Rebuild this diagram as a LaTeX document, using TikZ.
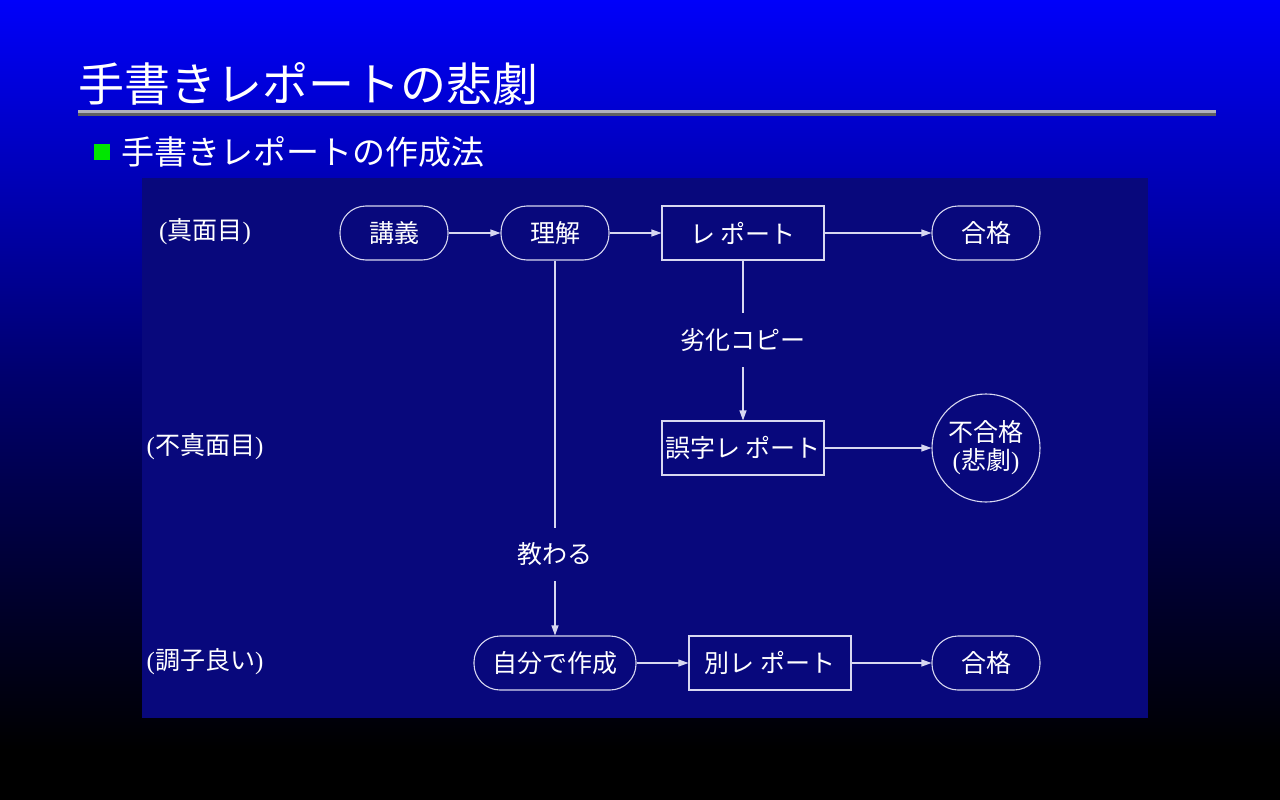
\documentclass[tikz,border=0pt]{standalone}
\usepackage{fontspec}
\setmainfont{Liberation Serif}
\newfontfamily\cjk{Noto Sans CJK JP}
\usetikzlibrary{arrows.meta}
\definecolor{panelblue}{RGB}{8,8,124}
\definecolor{topblue}{RGB}{0,0,250}
\definecolor{ruleA}{RGB}{176,176,190}
\definecolor{ruleB}{RGB}{96,96,100}
\definecolor{linec}{RGB}{215,215,240}
\definecolor{bulletg}{RGB}{0,230,0}
\tikzset{
  conn/.style={draw=linec, line width=1.1pt},
  arr/.style={conn, -{Triangle[length=10pt,width=7pt]}},
  base/.style={draw=linec, line width=1.1pt, text=white, font=\fontsize{25}{29}\selectfont\cjk, inner sep=0pt},
  pill/.style={base, rounded corners=26pt, minimum height=54pt},
  boxn/.style={base, minimum height=54pt},
  circ/.style={base, circle, minimum size=108pt, align=center},
  lbl/.style={text=white, font=\fontsize{25}{29}\selectfont, inner sep=2pt, fill=panelblue},
  rowlbl/.style={text=white, font=\fontsize{25}{29}\selectfont, inner sep=0pt}
}
\begin{document}
\begin{tikzpicture}[x=1pt,y=-1pt]
\useasboundingbox (0,0) rectangle (1280,800);
\shade[top color=topblue, bottom color=black, middle color={rgb,255:red,0;green,0;blue,110}] (0,0) rectangle (1280,750);
\fill[black] (0,749) rectangle (1280,800);
% title
\node[anchor=west, text=white, font=\fontsize{46}{50}\selectfont\cjk, inner sep=0pt] (title) at (78,84) {手書きレポートの悲劇};
\fill[ruleA] (78,110) rectangle (1216,113);
\fill[ruleB] (78,113) rectangle (1216,116);
% bullet
\fill[bulletg] (94,144) rectangle (110,160);
\node[anchor=west, text=white, font=\fontsize{33}{36}\selectfont\cjk, inner sep=0pt] (sub) at (121,152) {手書きレポートの作成法};
% panel
\fill[panelblue] (142,178) rectangle (1148,718);
% row labels
\node[rowlbl] (r1) at (205,232) {({\cjk 真面目})};
\node[rowlbl] (r2) at (205,447) {({\cjk 不真面目})};
\node[rowlbl] (r3) at (205,662) {({\cjk 調子良い})};
% row 1
\node[pill, minimum width=108pt] (kougi) at (394,233) {講義};
\node[pill, minimum width=108pt] (rikai) at (555,233) {理解};
\node[boxn, minimum width=162pt] (report) at (743,233) {レ ポート};
\node[pill, minimum width=108pt] (gokaku1) at (986,233) {合格};
% row 2
\node[boxn, minimum width=162pt] (goji) at (743,448) {誤字レ ポート};
\node[circ] (fugokaku) at (986,448) {不合格\\[-1pt]{\rmfamily(}悲劇{\rmfamily)}};
% row 3
\node[pill, minimum width=162pt] (jibun) at (555,663) {自分で作成};
\node[boxn, minimum width=162pt] (betsu) at (770,663) {別レ ポート};
\node[pill, minimum width=108pt] (gokaku2) at (986,663) {合格};
% middle labels
\node[lbl, font=\fontsize{25}{29}\selectfont\cjk] (rekka) at (743,340) {劣化コピー};
\node[lbl, font=\fontsize{25}{29}\selectfont\cjk] (osowaru) at (555,554) {教わる};
% connectors
\draw[arr] (kougi) -- (rikai);
\draw[arr] (rikai) -- (report);
\draw[arr] (report) -- (gokaku1);
\coordinate (c1) at (743,313);
\coordinate (c2) at (743,367);
\draw[conn] (report.south) -- (c1);
\draw[arr] (c2) -- (goji.north);
\draw[arr] (goji) -- (fugokaku);
\coordinate (c3) at (555,528);
\coordinate (c4) at (555,581);
\draw[conn] (rikai.south) -- (c3);
\draw[arr] (c4) -- (jibun.north);
\draw[arr] (jibun) -- (betsu);
\draw[arr] (betsu) -- (gokaku2);
\end{tikzpicture}
\end{document}
